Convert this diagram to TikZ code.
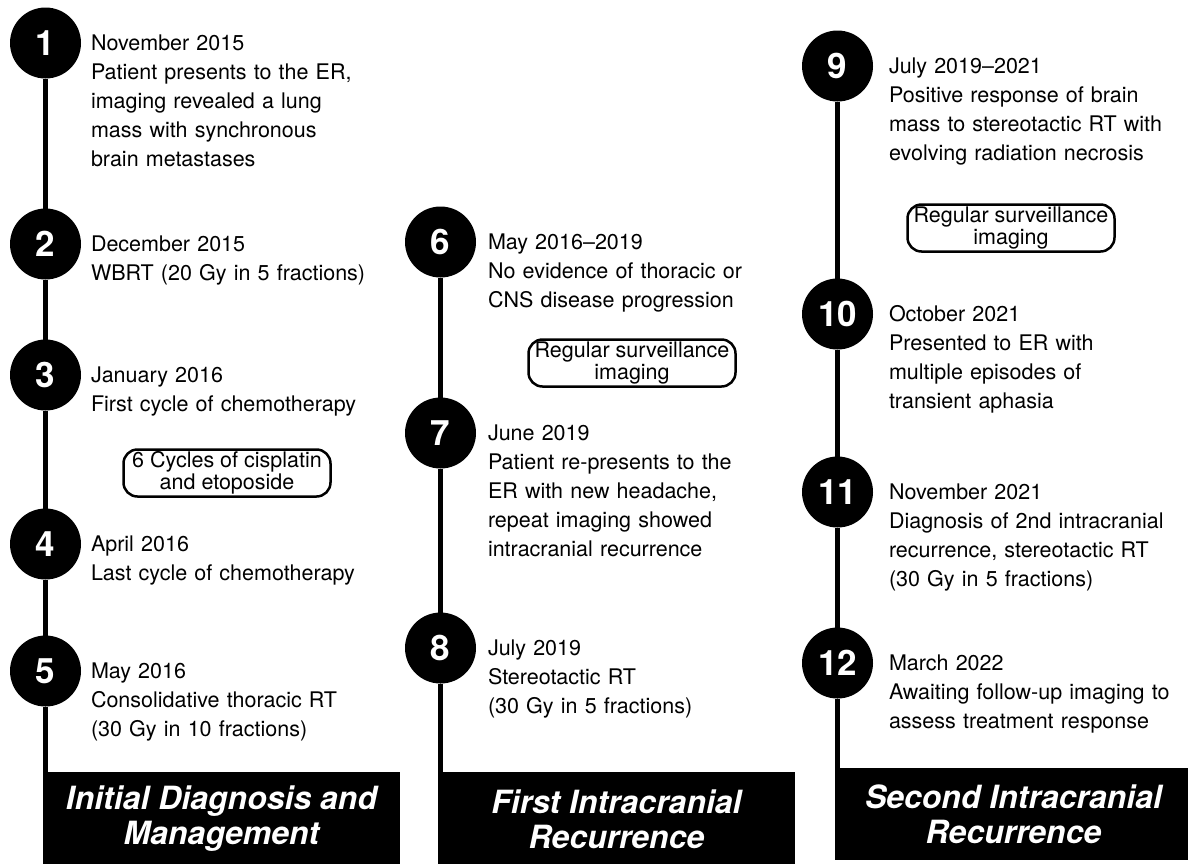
\documentclass[tikz,border=0pt]{standalone}
\usepackage{fontspec}
\setmainfont{TeX Gyre Heros}
\usetikzlibrary{positioning}

\begin{document}
\begin{tikzpicture}[x=1pt, y=-1pt,
                line width=5pt,
                node distance=12pt,
                milestone/.style={circle, fill=black, minimum size=71pt, inner sep=0pt, outer sep=0pt, text=white, font=\fontsize{35}{35}\selectfont\bfseries},
                event/.style={anchor=base west, yshift=-7.5pt, inner sep=0pt, outer sep=0pt, text width=320pt, align=left, font=\fontsize{21.5}{29}\selectfont},
                phase/.style={draw=black, line width=2.5pt, rounded corners=14pt, minimum width=207pt, minimum height=47pt, inner sep=0pt, align=center, font=\fontsize{21.5}{22}\selectfont},
                header/.style={anchor=north west, fill=black, text=white, minimum width=357pt, minimum height=94pt, inner sep=0pt, outer sep=0pt, align=center, font=\fontsize{32}{35}\selectfont\bfseries\itshape}
                ]
                \useasboundingbox (0,0) rectangle (1188,863);
                \clip (0,0) rectangle (1188,863);

                % Nodes
                \node[milestone] (c1) at (45.5,43) {1};
                \node[milestone] (c2) at (45.5,244) {2};
                \node[milestone] (c3) at (45.5,375) {3};
                \node[milestone] (c4) at (45.5,544) {4};
                \node[milestone] (c5) at (45.5,671) {5};
                \node[milestone] (c6) at (440.5,242) {6};
                \node[milestone] (c7) at (440.5,433) {7};
                \node[milestone] (c8) at (440.5,648) {8};
                \node[milestone] (c9) at (837.5,66) {9};
                \node[milestone] (c10) at (837.5,314) {10};
                \node[milestone] (c11) at (837.5,492) {11};
                \node[milestone] (c12) at (837.5,663) {12};

                \node[right=10pt of c1.east, event] (e1) {November 2015\\Patient presents to the ER,\\imaging revealed a lung\\mass with synchronous\\brain metastases};
                \node[right=10pt of c2.east, event] (e2) {December 2015\\WBRT (20 Gy in 5 fractions)};
                \node[right=10pt of c3.east, event] (e3) {January 2016\\First cycle of chemotherapy};
                \node[right=10pt of c4.east, event] (e4) {April 2016\\Last cycle of chemotherapy};
                \node[right=10pt of c5.east, event] (e5) {May 2016\\Consolidative thoracic RT\\(30 Gy in 10 fractions)};
                \node[right=12pt of c6.east, event] (e6) {May 2016–2019\\No evidence of thoracic or\\CNS disease progression};
                \node[right=12pt of c7.east, event] (e7) {June 2019\\Patient re-presents to the\\ER with new headache,\\repeat imaging showed\\intracranial recurrence};
                \node[right=12pt of c8.east, event] (e8) {July 2019\\Stereotactic RT\\(30 Gy in 5 fractions)};
                \node[right=16pt of c9.east, event] (e9) {July 2019–2021\\Positive response of brain\\mass to stereotactic RT with\\evolving radiation necrosis};
                \node[right=16pt of c10.east, event] (e10) {October 2021\\Presented to ER with\\multiple episodes of\\transient aphasia};
                \node[right=16pt of c11.east, event] (e11) {November 2021\\Diagnosis of 2nd intracranial\\recurrence, stereotactic RT\\(30 Gy in 5 fractions)};
                \node[right=16pt of c12.east, event] (e12) {March 2022\\Awaiting follow-up imaging to\\assess treatment response};

                \node[phase] (p1) at (227,473) {6 Cycles of cisplatin\\and etoposide};
                \node[phase] (p2) at (632,363) {Regular surveillance\\imaging};
                \node[phase] (p3) at (1011,228) {Regular surveillance\\imaging};

                \node[header] (h1) at (43,772) {Initial Diagnosis and\\Management};
                \node[header] (h2) at (438,772) {First Intracranial\\Recurrence};
                \node[header, minimum height=92pt] (h3) at (835,768) {Second Intracranial\\Recurrence};

                % Paths
                \draw (c1) -- (c2) -- (c3) -- (c4) -- (c5) -- (c5 |- h1.north);
                \draw (c6) -- (c7) -- (c8) -- (c8 |- h2.north);
                \draw (c9) -- (c10) -- (c11) -- (c12) -- (c12 |- h3.north);
\end{tikzpicture}
\end{document}
